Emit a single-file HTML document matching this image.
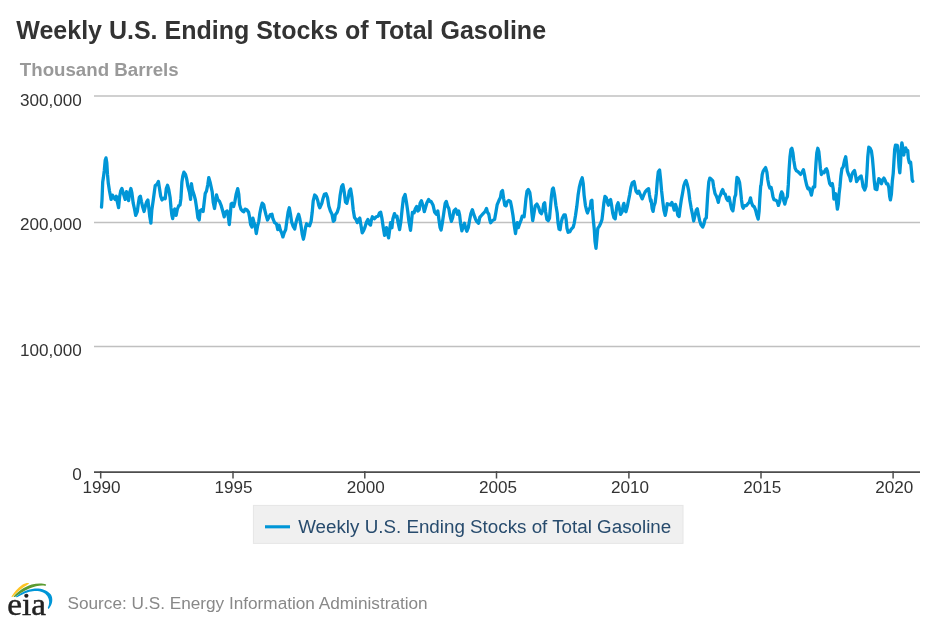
<!DOCTYPE html>
<html><head><meta charset="utf-8">
<style>
html,body{margin:0;padding:0;background:#fff;}
body{width:936px;height:624px;overflow:hidden;position:relative;font-family:"Liberation Sans",Arial,sans-serif;}
svg{position:absolute;left:0;top:0;}
text{font-family:"Liberation Sans",Arial,sans-serif;}
</style></head><body>
<svg width="936" height="624" viewBox="0 0 936 624">
<rect width="936" height="624" fill="#fff"/>
<text x="16.3" y="38.8" font-size="25" font-weight="bold" fill="#333">Weekly U.S. Ending Stocks of Total Gasoline</text>
<text x="19.8" y="76" font-size="18.7" font-weight="bold" fill="#999">Thousand Barrels</text>
<g stroke="#c0c0c0" stroke-width="1.5">
<line x1="94" x2="920" y1="96" y2="96"/>
<line x1="94" x2="920" y1="222.4" y2="222.4"/>
<line x1="94" x2="920" y1="346.6" y2="346.6"/>
</g>
<g font-size="17.1" fill="#333" text-anchor="end">
<text x="81.7" y="106.2">300,000</text>
<text x="81.7" y="230.3">200,000</text>
<text x="81.7" y="355.9">100,000</text>
<text x="81.7" y="479.9">0</text>
</g>
<g stroke="#4d4d4d" stroke-width="1.5">
<line x1="94" x2="920" y1="472.05" y2="472.05" stroke-width="1.7"/>
<line x1="100.7" x2="100.7" y1="471" y2="478.5"/>
<line x1="233.0" x2="233.0" y1="471" y2="478.5"/>
<line x1="364.8" x2="364.8" y1="471" y2="478.5"/>
<line x1="496.5" x2="496.5" y1="471" y2="478.5"/>
<line x1="628.9" x2="628.9" y1="471" y2="478.5"/>
<line x1="761.0" x2="761.0" y1="471" y2="478.5"/>
<line x1="893.1" x2="893.1" y1="471" y2="478.5"/>
</g>
<g font-size="17.1" fill="#333" text-anchor="middle">
<text x="101.5" y="492.7">1990</text>
<text x="233.6" y="492.7">1995</text>
<text x="365.8" y="492.7">2000</text>
<text x="497.9" y="492.7">2005</text>
<text x="630.0" y="492.7">2010</text>
<text x="762.2" y="492.7">2015</text>
<text x="894.3" y="492.7">2020</text>
</g>
<!--DS--><path id="series" d="M101.5 207.1 L102.0 200.0 L102.7 182.1 L103.4 177.6 L104.3 170.5 L105.2 160.3 L106.0 157.9 L106.8 162.8 L107.5 174.4 L108.3 183.3 L109.5 191.0 L111.1 199.4 L112.4 195.1 L113.9 197.7 L115.2 199.4 L116.3 196.2 L117.5 202.6 L118.6 207.7 L119.7 196.2 L120.7 191.0 L121.9 188.5 L123.2 192.9 L124.2 196.2 L125.2 199.4 L126.5 191.7 L127.5 196.2 L128.6 200.6 L129.6 192.9 L130.9 188.5 L131.9 192.9 L133.2 203.2 L134.5 209.0 L135.7 215.4 L137.3 211.5 L138.3 203.8 L139.3 197.4 L140.4 196.2 L141.4 201.3 L142.7 207.1 L144.1 211.5 L145.4 205.8 L146.6 201.9 L147.9 200.0 L148.8 207.7 L149.8 216.7 L150.9 223.1 L151.8 210.3 L153.1 201.3 L154.3 192.3 L155.2 185.6 L156.9 184.4 L158.4 181.4 L159.5 188.5 L160.7 196.2 L162.0 200.0 L163.7 198.1 L165.2 198.7 L166.3 188.5 L167.5 185.3 L168.8 189.7 L170.1 197.4 L171.0 207.7 L171.9 215.4 L172.7 218.6 L173.7 211.5 L174.8 209.0 L176.1 215.4 L177.4 209.0 L178.7 205.8 L180.0 205.1 L180.9 198.7 L181.9 182.1 L182.9 175.6 L183.9 172.1 L185.5 174.4 L186.8 179.5 L187.8 185.9 L189.6 192.9 L190.6 199.4 L191.4 183.6 L192.4 189.7 L194.1 194.9 L195.4 200.0 L196.6 207.7 L197.9 217.9 L199.2 219.9 L200.1 210.9 L201.8 209.6 L203.1 211.5 L204.3 201.3 L205.2 193.6 L206.5 191.0 L207.8 184.6 L208.8 177.6 L210.1 182.1 L212.2 191.8 L213.2 202.1 L214.5 208.5 L215.5 202.1 L216.5 195.0 L217.8 199.5 L219.5 201.4 L221.1 205.3 L222.7 211.0 L224.2 216.8 L225.2 212.3 L227.2 211.0 L228.4 217.4 L229.3 224.5 L230.4 213.6 L231.1 204.0 L232.3 203.3 L233.6 206.5 L234.8 202.1 L236.1 194.4 L237.7 188.6 L238.8 194.4 L239.6 204.6 L240.9 209.1 L242.5 211.0 L243.8 211.7 L245.1 209.1 L246.8 209.7 L248.6 212.3 L249.6 217.4 L250.6 224.5 L251.9 227.1 L252.9 218.1 L253.9 221.9 L255.2 226.4 L256.3 233.5 L257.5 226.4 L258.8 221.3 L259.8 213.6 L261.1 207.2 L262.2 203.1 L263.7 204.6 L264.7 209.7 L266.0 214.9 L267.5 220.0 L268.8 217.4 L270.1 214.9 L272.0 214.2 L272.9 218.7 L274.6 222.6 L276.5 223.8 L277.8 229.6 L279.1 225.1 L280.4 230.3 L281.6 232.8 L282.9 236.9 L284.2 232.8 L285.7 229.6 L286.8 221.3 L288.1 212.3 L289.3 207.8 L290.6 214.9 L291.6 221.9 L293.2 226.4 L294.7 229.0 L295.7 223.8 L297.0 218.7 L298.6 214.2 L299.8 218.7 L300.9 225.1 L302.2 234.1 L303.4 239.2 L304.5 234.1 L305.5 227.7 L306.6 223.8 L307.9 225.1 L309.6 225.8 L311.1 221.3 L312.2 212.3 L313.2 200.8 L314.7 195.0 L316.5 196.9 L317.8 200.8 L318.8 205.3 L319.8 207.8 L321.8 203.3 L323.1 198.2 L324.3 194.4 L326.0 193.7 L327.5 197.6 L328.8 205.9 L330.4 211.0 L332.0 214.2 L333.3 221.3 L334.6 220.0 L335.2 214.9 L337.2 212.3 L338.8 207.2 L340.1 195.6 L341.6 186.7 L342.9 184.7 L344.2 191.8 L345.5 202.1 L346.8 203.3 L348.1 198.2 L349.3 191.2 L350.6 189.0 L351.9 196.9 L353.2 209.7 L354.5 217.4 L356.0 219.4 L357.3 222.6 L358.6 219.4 L359.8 218.1 L360.9 225.1 L362.2 232.8 L363.7 230.3 L365.0 227.1 L366.3 222.6 L367.9 219.4 L369.2 223.8 L370.5 225.1 L371.4 220.0 L372.4 216.8 L374.3 218.7 L376.3 216.8 L378.2 216.2 L379.5 212.9 L380.7 212.3 L382.0 218.7 L383.3 227.7 L384.6 235.4 L385.9 230.3 L386.5 227.7 L387.5 234.1 L388.6 237.9 L389.6 230.3 L390.6 222.6 L391.9 227.7 L392.9 218.7 L394.5 213.6 L395.7 216.8 L397.0 216.2 L398.1 222.6 L399.6 229.6 L400.9 221.3 L402.2 208.5 L403.4 198.2 L405.1 194.4 L406.4 202.1 L407.7 211.0 L408.9 221.3 L410.5 230.3 L411.5 221.3 L412.4 212.3 L414.1 212.9 L415.4 208.5 L416.6 206.5 L417.9 211.0 L419.2 209.7 L420.1 203.3 L421.4 200.8 L423.1 205.9 L424.3 211.7 L425.6 207.2 L426.9 202.7 L428.6 199.5 L430.1 201.4 L431.1 201.4 L433.1 205.3 L434.7 212.3 L436.3 214.2 L437.8 211.0 L438.8 218.7 L440.1 227.7 L441.1 230.0 L442.4 222.6 L443.9 212.3 L445.2 203.3 L446.3 201.4 L447.5 205.9 L448.8 208.5 L450.1 216.2 L451.4 221.3 L452.7 217.4 L453.9 211.0 L455.7 209.1 L457.4 214.2 L458.7 211.0 L459.6 214.9 L460.6 223.8 L461.9 230.9 L463.2 226.4 L464.5 223.2 L465.5 227.7 L466.8 231.3 L468.3 227.7 L469.6 220.0 L470.9 213.6 L472.4 209.7 L473.7 214.2 L475.4 218.7 L476.6 221.3 L478.6 223.2 L479.8 217.4 L481.4 215.5 L483.1 213.6 L485.0 211.7 L486.5 208.5 L487.5 212.3 L488.8 214.2 L489.8 220.0 L490.7 222.8 L492.4 220.6 L494.6 219.4 L495.9 212.3 L497.2 204.6 L498.8 200.8 L500.4 197.6 L501.4 191.8 L502.5 190.5 L503.6 198.2 L504.8 205.3 L506.1 205.9 L507.0 202.1 L508.7 200.5 L510.4 201.4 L511.6 207.2 L512.9 214.9 L514.2 225.1 L515.5 233.5 L516.5 226.4 L517.3 222.6 L518.3 227.7 L519.6 223.8 L521.1 220.0 L522.2 216.2 L524.1 216.8 L525.0 208.5 L526.0 198.2 L527.0 191.2 L528.3 189.5 L529.8 192.4 L530.9 200.8 L531.8 212.3 L532.7 220.6 L533.9 213.6 L535.2 205.9 L536.9 204.0 L538.6 207.2 L540.1 212.3 L541.4 213.7 L542.7 210.5 L543.7 204.1 L544.7 202.8 L545.6 211.7 L546.9 219.4 L548.2 220.7 L549.5 218.2 L550.4 207.9 L551.4 196.4 L552.4 189.3 L553.3 188.0 L554.6 195.1 L555.9 205.3 L557.2 213.0 L558.1 223.3 L559.1 229.1 L560.1 229.7 L561.0 223.3 L562.3 218.2 L563.9 214.9 L565.2 214.9 L566.1 219.4 L567.0 228.4 L568.1 232.3 L570.0 231.6 L571.3 229.1 L573.2 227.1 L574.2 223.3 L575.5 215.6 L576.8 206.6 L578.1 195.1 L579.3 187.4 L580.9 181.0 L582.2 177.8 L583.2 183.5 L584.1 195.1 L585.4 205.3 L586.6 210.5 L587.5 213.0 L588.8 209.2 L590.1 207.9 L591.1 200.8 L591.9 200.2 L592.4 209.2 L593.4 220.7 L594.3 229.7 L595.0 241.2 L596.0 248.3 L596.9 238.7 L597.8 228.4 L599.5 225.8 L600.7 223.3 L602.0 219.4 L602.9 211.7 L603.9 202.8 L605.0 196.4 L606.3 197.6 L607.5 202.8 L608.4 205.3 L609.3 200.8 L610.6 199.6 L611.6 205.3 L612.7 213.0 L613.9 217.5 L615.2 218.8 L616.1 211.7 L617.0 205.3 L618.1 202.8 L619.3 207.9 L620.6 214.3 L622.2 211.7 L623.2 205.3 L623.9 203.4 L625.1 210.5 L626.0 211.7 L627.3 206.6 L628.3 201.5 L629.6 195.1 L630.9 187.4 L632.2 182.9 L634.1 181.6 L635.0 186.1 L636.0 191.2 L637.5 193.2 L638.8 191.2 L640.5 195.1 L642.2 198.9 L643.7 195.1 L645.2 191.9 L646.9 189.9 L648.6 188.7 L649.5 195.1 L650.7 201.5 L651.1 199.9 L652.2 208.8 L653.1 211.4 L653.9 206.3 L655.2 202.4 L656.3 193.5 L657.3 180.6 L658.3 171.7 L659.6 170.1 L660.6 179.4 L661.6 190.9 L662.9 202.4 L663.9 210.1 L665.2 215.3 L666.3 210.1 L667.2 203.7 L669.1 204.4 L670.6 205.0 L671.9 202.4 L673.2 206.3 L674.2 210.1 L675.5 204.4 L676.5 207.6 L677.8 215.3 L679.1 216.5 L680.0 208.8 L681.3 199.9 L682.5 193.5 L683.8 185.8 L685.1 181.9 L686.0 180.6 L687.3 184.5 L688.6 190.3 L689.8 199.9 L691.1 207.6 L692.4 214.0 L693.7 221.0 L695.0 215.3 L696.3 210.1 L697.3 208.8 L698.3 214.0 L699.6 220.4 L701.1 224.9 L702.7 227.1 L703.9 224.2 L705.0 219.1 L706.3 217.8 L707.0 206.3 L707.8 193.5 L708.8 181.9 L709.8 178.1 L711.4 179.4 L712.7 180.6 L713.7 187.1 L715.0 193.5 L716.3 196.0 L717.3 198.6 L718.3 202.4 L719.3 197.3 L720.6 194.7 L721.6 191.5 L722.7 189.6 L723.9 193.5 L725.2 194.1 L726.5 198.6 L727.8 200.5 L729.1 197.3 L730.4 203.7 L731.6 208.8 L732.9 210.8 L733.9 203.7 L734.7 197.3 L735.7 194.7 L736.3 184.5 L737.0 177.4 L738.3 178.7 L739.6 182.6 L740.6 190.9 L741.5 199.9 L742.4 206.3 L743.2 208.2 L744.7 205.6 L746.3 205.6 L747.9 203.7 L749.2 202.4 L750.5 197.9 L751.4 202.4 L752.7 205.6 L754.3 206.9 L755.6 210.1 L756.9 215.3 L758.2 219.1 L759.1 211.4 L759.8 198.6 L760.7 185.8 L761.1 184.9 L762.2 174.6 L763.1 171.4 L764.3 169.5 L765.6 167.6 L766.9 172.1 L767.8 179.7 L768.8 184.9 L769.8 188.1 L771.1 187.4 L772.0 191.3 L772.9 196.4 L773.9 199.6 L775.9 200.3 L777.2 201.5 L778.4 205.4 L779.7 201.5 L780.6 195.1 L781.6 191.9 L782.7 193.8 L783.6 200.3 L784.8 204.1 L786.1 199.0 L787.4 196.4 L788.3 184.9 L789.1 169.5 L790.0 156.7 L790.9 149.6 L791.9 148.3 L792.9 152.8 L793.8 160.5 L795.1 168.2 L796.4 170.8 L797.7 171.4 L798.9 172.7 L800.6 174.4 L802.2 172.1 L803.4 169.7 L804.5 174.6 L805.4 179.7 L806.6 184.9 L807.9 188.7 L809.2 188.1 L810.5 191.9 L811.4 195.1 L812.4 190.0 L813.4 186.8 L814.7 186.8 L815.2 175.9 L816.0 163.1 L816.8 152.8 L817.8 148.3 L818.8 151.5 L819.6 159.2 L820.4 168.2 L821.4 174.6 L822.7 172.1 L824.2 172.7 L825.5 169.5 L826.5 168.8 L827.5 171.4 L828.4 177.2 L829.7 183.6 L831.0 185.5 L832.3 183.6 L833.2 188.7 L833.9 199.0 L834.8 196.4 L835.7 193.8 L836.5 201.5 L837.4 209.2 L838.3 204.1 L839.1 193.8 L840.0 186.2 L840.9 175.9 L841.9 168.8 L843.2 166.9 L844.5 160.5 L845.7 156.7 L846.5 163.1 L847.3 170.8 L848.6 174.6 L849.8 177.2 L850.6 181.0 L851.9 174.6 L853.2 172.1 L854.5 170.5 L855.4 174.6 L856.6 181.7 L857.9 179.7 L859.6 177.2 L861.1 175.9 L862.2 181.0 L863.1 186.8 L864.7 190.0 L866.0 186.2 L866.9 173.3 L867.8 156.7 L868.8 147.1 L870.1 148.3 L871.4 150.9 L872.4 158.2 L873.4 169.7 L874.3 181.3 L875.2 189.0 L876.9 189.6 L877.8 183.8 L878.8 178.7 L880.1 180.0 L881.4 183.8 L882.7 180.0 L883.9 178.1 L885.2 180.6 L886.5 183.8 L887.8 183.8 L888.8 187.7 L889.7 196.7 L890.4 199.9 L891.4 194.1 L892.3 181.3 L893.2 173.6 L893.9 162.1 L894.7 149.2 L895.5 145.1 L897.3 145.4 L898.2 153.7 L899.1 167.2 L899.8 172.9 L900.6 162.1 L901.3 146.7 L901.9 142.8 L902.9 147.9 L903.8 155.0 L904.7 149.2 L905.7 147.9 L906.8 151.2 L907.7 150.5 L908.3 158.2 L909.3 162.7 L910.6 162.1 L911.5 171.0 L912.2 180.0 L912.8 181.3" fill="none" stroke="#0096d7" stroke-width="3.3" stroke-linejoin="round" stroke-linecap="round"/><!--DE-->
<rect x="253.4" y="505.4" width="429.6" height="38" fill="#f0f0f0" stroke="#e6e6e6" stroke-width="1"/>
<line x1="265" x2="290" y1="526.8" y2="526.8" stroke="#0096d7" stroke-width="3.1"/>
<text x="298.2" y="533.3" font-size="18.8" fill="#274b6d">Weekly U.S. Ending Stocks of Total Gasoline</text>
<text x="67.5" y="608.8" font-size="17.2" fill="#888">Source: U.S. Energy Information Administration</text>
<g id="logo"><g transform="translate(0,572) scale(0.083333)">
<path d="M136 297 C165 250 210 190 268 152 C298 135 325 128 349 132 C343 148 318 160 295 175 C245 206 196 254 148 301 Z" fill="#ffc423"/>
<path d="M161 297 C213 233 290 178 380 150 C440 134 510 131 553 149 C555 158 549 166 540 165 C490 155 425 168 352 198 C282 228 227 267 178 301 Z" fill="#5b9b31"/>
<path d="M186 299 C250 248 320 210 400 200 C485 192 563 213 608 268 C640 315 634 388 584 443 L573 433 C596 385 598 335 568 288 C540 245 480 224 412 228 C332 236 262 268 204 304 Z" fill="#0096d7"/>
</g>
<text transform="translate(7.3,614.9) scale(1.085,1)" x="0" y="0" font-size="30.6" fill="#222" stroke="#222" stroke-width="0.45" style="font-family:'Liberation Serif','Times New Roman',serif">eia</text></g>
</svg>
</body></html>
